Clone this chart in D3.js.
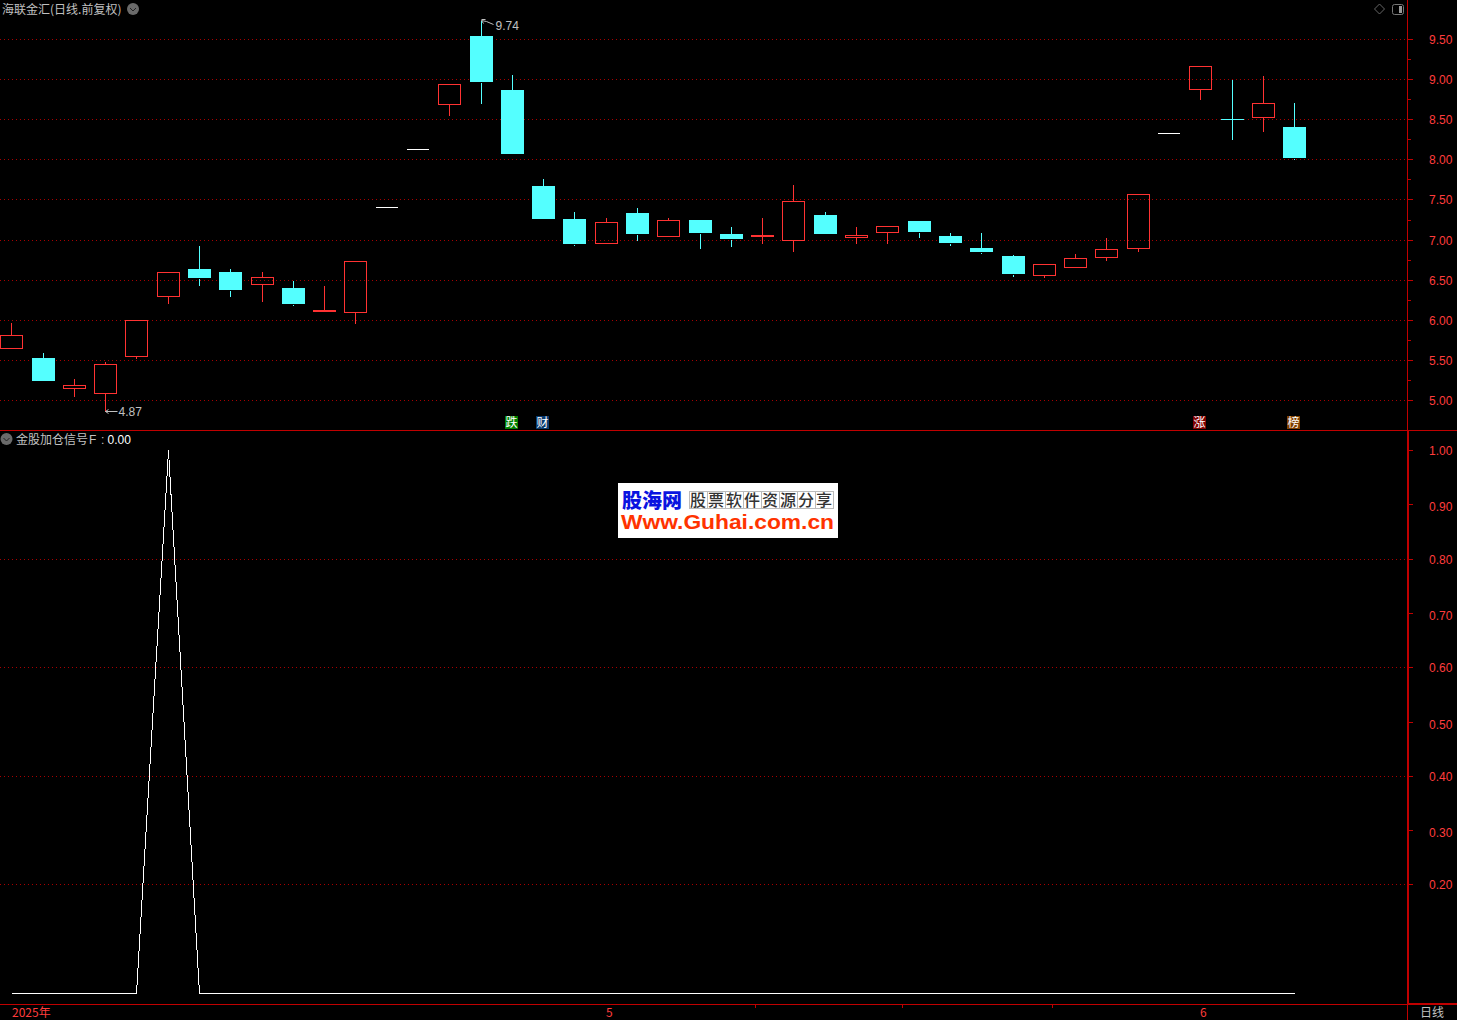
<!DOCTYPE html>
<html>
<head>
<meta charset="utf-8">
<script src="https://cdn.jsdelivr.net/npm/d3@7"></script>
<style>
  html, body { margin: 0; padding: 0; background: #000; overflow: hidden; }
  svg { display: block; }
  text { font-family: "Noto Sans CJK SC", "Liberation Sans", sans-serif; font-size: 12px; }
  .num { font-family: "Liberation Sans", sans-serif; }
  .candle line, .candle rect, .crisp { shape-rendering: crispEdges; }
</style>
</head>
<body>
<div id="chart"></div>
<script>
// daily candles
const opens  = [5.65,5.53,5.15,5.09,5.55,6.30,6.64,6.60,6.45,6.40,6.12,6.10,7.41,8.14,8.69,9.54,8.87,7.67,7.26,6.96,7.34,7.05,7.25,7.08,7.05,7.00,7.31,7.04,7.10,7.24,7.05,6.90,6.80,6.56,6.66,6.79,6.90,8.33,8.88,8.51,8.53,8.41];
const closes = [5.81,5.24,5.19,5.45,6.00,6.60,6.53,6.37,6.54,6.20,6.13,6.74,7.41,8.14,8.95,8.97,8.07,7.26,6.95,7.22,7.08,7.25,7.09,7.01,7.06,7.48,7.08,7.06,7.17,7.10,6.96,6.85,6.58,6.70,6.77,6.89,7.57,8.33,9.17,8.51,8.71,8.02];
const highs  = [5.98,5.60,5.28,5.49,6.00,6.60,6.94,6.65,6.61,6.50,6.44,6.74,7.41,8.14,8.95,9.74,9.07,7.77,7.36,7.29,7.41,7.29,7.25,7.18,7.29,7.70,7.36,7.18,7.19,7.25,7.10,7.10,6.83,6.70,6.84,7.04,7.57,8.33,9.17,9.01,9.06,8.72];
const lows   = [5.65,5.24,5.05,4.87,5.53,6.21,6.44,6.30,6.24,6.19,6.12,5.97,7.41,8.14,8.56,8.71,8.07,7.26,6.94,6.96,7.00,7.05,6.90,6.93,6.96,6.86,7.08,6.96,6.96,7.04,6.94,6.84,6.55,6.54,6.66,6.75,6.86,8.33,8.76,8.26,8.36,8.01];

// lower panel indicator
const signal = [0,0,0,0,0,1,0,0,0,0,0,0,0,0,0,0,0,0,0,0,0,0,0,0,0,0,0,0,0,0,0,0,0,0,0,0,0,0,0,0,0,0];

const priceTicks = [5,5.5,6,6.5,7,7.5,8,8.5,9,9.5];
const priceMinorTicks = [5.25,5.75,6.25,6.75,7.25,7.75,8.25,8.75,9.25];
const signalTicks = [0.2,0.3,0.4,0.5,0.6,0.7,0.8,0.9,1];
const signalGrid = [0.2,0.4,0.6,0.8];

const badges = [
  {i: 16, label: '跌', color: '#008000'},
  {i: 17, label: '财', color: '#0a3a6e'},
  {i: 38, label: '涨', color: '#800000'},
  {i: 41, label: '榜', color: '#804000'}
];
const monthLabels = [{x: 12, label: '2025年'}, {x: 606, label: '5'}, {x: 1200, label: '6'}];
const weekTicks = [755, 902, 1052];
const logoChars = ['股','票','软','件','资','源','分','享'];

const width = 1457, height = 1020;
const axisX = 1407;
const lineRed = '#c00000', gridRed = '#a80000', labelRed = '#ff3c3c', candleRed = '#ff3232', candleCyan = '#54ffff', gray = '#c0c0c0';

const svg = d3.select('#chart').append('svg')
    .attr('width', width)
    .attr('height', height)
    .style('background', '#000');

const x = d3.scaleLinear().domain([0, 41]).range([11.72, 1294.61]);
const yPrice = d3.scaleLinear().domain([5, 9.5]).range([400.5, 39.5]);
const ySignal = d3.scaleLinear().domain([0, 1]).range([993.5, 450.5]);

// keep 1px marks on whole pixel rows
const snap = v => Math.floor(v) + 0.5;
const cx = i => snap(x(i));
const gridY = p => snap(yPrice(p));
const py = p => snap(yPrice(p) + 0.4);

// grids
svg.append('g').selectAll('line')
    .data(priceTicks)
  .join('line')
    .attr('class', 'crisp')
    .attr('x1', 0).attr('x2', axisX)
    .attr('y1', gridY).attr('y2', gridY)
    .attr('stroke', gridRed)
    .attr('stroke-dasharray', '1 3');

svg.append('g').selectAll('line')
    .data(signalGrid)
  .join('line')
    .attr('class', 'crisp')
    .attr('x1', 0).attr('x2', axisX)
    .attr('y1', d => snap(ySignal(d))).attr('y2', d => snap(ySignal(d)))
    .attr('stroke', gridRed)
    .attr('stroke-dasharray', '1 3');

// candles
const candles = svg.append('g').selectAll('g')
    .data(d3.range(opens.length))
  .join('g')
    .attr('class', 'candle');

candles.each(function(i) {
  const g = d3.select(this);
  const o = opens[i], c = closes[i], h = highs[i], l = lows[i];
  const top = Math.max(o, c), bot = Math.min(o, c);
  const mid = cx(i);

  if (o === c) {
    // flat bar, no body
    if (h === l) {
      g.append('line').attr('x1', mid - 11.5).attr('x2', mid + 10.5).attr('y1', py(o)).attr('y2', py(o)).attr('stroke', '#fff');
    } else {
      g.append('line').attr('x1', mid - 11.5).attr('x2', mid + 11.5).attr('y1', py(o)).attr('y2', py(o)).attr('stroke', candleCyan);
      g.append('line').attr('x1', mid).attr('x2', mid).attr('y1', py(h)).attr('y2', py(l)).attr('stroke', candleCyan);
    }
    return;
  }

  const col = c > o ? candleRed : candleCyan;
  if (h > top) g.append('line').attr('x1', mid).attr('x2', mid).attr('y1', py(h)).attr('y2', py(top)).attr('stroke', col);
  if (l < bot) g.append('line').attr('x1', mid).attr('x2', mid).attr('y1', py(bot)).attr('y2', py(l)).attr('stroke', col);

  if (c > o) {
    g.append('rect')
        .attr('x', mid - 11).attr('width', 22)
        .attr('y', py(top)).attr('height', Math.max(1, py(bot) - py(top)))
        .attr('fill', 'none').attr('stroke', col);
  } else {
    g.append('rect')
        .attr('x', mid - 11.5).attr('width', 23)
        .attr('y', py(top) - 0.5).attr('height', py(bot) - py(top))
        .attr('fill', col);
  }
});

// high / low notes
const hiIdx = highs.indexOf(d3.max(highs));
const loIdx = lows.indexOf(d3.min(lows));
const hx = cx(hiIdx), hy = py(highs[hiIdx]);
const lx = cx(loIdx), ly = py(lows[loIdx]);

svg.append('path')
    .attr('d', `M${hx},${hy - 1}h4M${hx},${hy}l2,3M${hx},${hy}l5,1l7,3`)
    .attr('fill', 'none').attr('stroke', gray).attr('stroke-width', 1);
svg.append('text').attr('class', 'num')
    .attr('x', hx + 14).attr('y', hy + 9.5)
    .attr('fill', gray)
    .text(highs[hiIdx].toFixed(2));

svg.append('path')
    .attr('d', `M${lx},${ly}h12M${lx},${ly}l3,-2M${lx},${ly}l3,2`)
    .attr('fill', 'none').attr('stroke', gray).attr('stroke-width', 1);
svg.append('text').attr('class', 'num')
    .attr('x', lx + 13).attr('y', ly + 4.5)
    .attr('fill', gray)
    .text(lows[loIdx].toFixed(2));

// event badges
const badge = svg.append('g').selectAll('g')
    .data(badges)
  .join('g')
    .attr('transform', d => `translate(${cx(d.i) - 7.5},416)`);
badge.append('rect')
    .attr('width', 13).attr('height', 13)
    .attr('fill', d => d.color);
badge.append('text')
    .attr('x', 6.5).attr('y', 11)
    .attr('text-anchor', 'middle')
    .attr('fill', '#fff')
    .text(d => d.label);

// indicator line
const signalLine = d3.line()
    .x((d, i) => cx(i))
    .y(d => snap(ySignal(d)));

svg.append('path')
    .datum(signal)
    .attr('class', 'crisp')
    .attr('d', signalLine)
    .attr('fill', 'none')
    .attr('stroke', '#fff')
    .attr('stroke-width', 1);

// frame
const frame = [
  [0, 430.5, width, 430.5, 1],
  [0, 1004.5, axisX, 1004.5, 1],
  [axisX, 1004, width, 1004, 2],
  [axisX + 0.5, 0, axisX + 0.5, 431, 1],
  [axisX + 1, 431, axisX + 1, 1004, 2],
  [axisX + 0.5, 1004, axisX + 0.5, height, 1]
];
svg.append('g').selectAll('line')
    .data(frame)
  .join('line')
    .attr('class', 'crisp')
    .attr('x1', d => d[0]).attr('y1', d => d[1])
    .attr('x2', d => d[2]).attr('y2', d => d[3])
    .attr('stroke', lineRed)
    .attr('stroke-width', d => d[4]);

// axes
function styleAxis(g, scaleSnap) {
  g.select('.domain').remove();
  g.selectAll('.tick').attr('transform', d => `translate(0,${scaleSnap(d)})`);
  g.selectAll('.tick line').attr('class', 'crisp').attr('stroke', lineRed);
  g.selectAll('.tick text')
      .attr('class', 'num')
      .attr('fill', labelRed)
      .attr('y', 1)
      .style('font-size', '12px')
      .style('font-family', '"Liberation Sans", sans-serif');
}

svg.append('g')
    .attr('transform', `translate(${axisX + 1},0)`)
    .call(d3.axisRight(yPrice).tickValues(priceMinorTicks).tickSize(3).tickFormat(''))
    .call(g => styleAxis(g, gridY));

svg.append('g')
    .attr('transform', `translate(${axisX + 1},0)`)
    .call(d3.axisRight(yPrice).tickValues(priceTicks).tickSize(5).tickPadding(16).tickFormat(d3.format('.2f')))
    .call(g => styleAxis(g, gridY));

svg.append('g')
    .attr('transform', `translate(${axisX + 1},0)`)
    .call(d3.axisRight(ySignal).tickValues(signalTicks).tickSize(5).tickPadding(16).tickFormat(d3.format('.2f')))
    .call(g => styleAxis(g, d => snap(ySignal(d))))
    // the odd tenths sit a little lower in the original
    .call(g => g.selectAll('.tick text').attr('y', d => Math.round(d * 10) % 2 ? 3 : 1));

// date axis
svg.append('g').selectAll('text')
    .data(monthLabels)
  .join('text')
    .attr('x', d => d.x).attr('y', 1017)
    .attr('fill', labelRed)
    .text(d => d.label);

svg.append('g').selectAll('line')
    .data(weekTicks)
  .join('line')
    .attr('class', 'crisp')
    .attr('x1', d => d + 0.5).attr('x2', d => d + 0.5)
    .attr('y1', 1005).attr('y2', 1008)
    .attr('stroke', lineRed);

svg.append('text')
    .attr('x', 1420).attr('y', 1017)
    .attr('fill', gray)
    .text('日线');

// titles
svg.append('text')
    .attr('x', 2).attr('y', 14)
    .attr('fill', gray)
    .text('海联金汇(日线.前复权)');

function dropIcon(px, py_) {
  svg.append('circle').attr('cx', px).attr('cy', py_).attr('r', 6).attr('fill', '#6a6a6a');
  svg.append('path')
      .attr('d', `M${px - 3},${py_ - 1}l3,3l3,-3`)
      .attr('fill', 'none').attr('stroke', '#222').attr('stroke-width', 1);
}
dropIcon(133, 9);
dropIcon(6.5, 439);

const legend = svg.append('text').attr('y', 444).attr('fill', gray);
legend.append('tspan').attr('x', 16).text('金股加仓信号');
legend.append('tspan').attr('class', 'num').attr('x', 89).text('F');
legend.append('tspan').attr('class', 'num').attr('x', 101).text(':');
legend.append('tspan').attr('class', 'num').attr('x', 107.5).attr('fill', '#fff').text(signal[signal.length - 1].toFixed(2));

// top right buttons
svg.append('path')
    .attr('d', 'M1379.5,4l5,5l-5,5l-5,-5z')
    .attr('fill', 'none').attr('stroke', '#666');
svg.append('rect')
    .attr('x', 1392.5).attr('y', 4.5).attr('width', 11).attr('height', 10).attr('rx', 2)
    .attr('fill', 'none').attr('stroke', '#777');
svg.append('rect')
    .attr('x', 1399).attr('y', 6).attr('width', 3).attr('height', 7)
    .attr('fill', '#999');

// site logo box
const logo = svg.append('g').attr('transform', 'translate(618,483)');
logo.append('rect').attr('width', 220).attr('height', 55).attr('fill', '#fff');
logo.append('text')
    .attr('x', 4).attr('y', 25)
    .attr('fill', '#0a14e0')
    .attr('font-weight', 900)
    .attr('textLength', 60)
    .style('font-size', '20px')
    .text('股海网');

const cell = d3.scaleBand().domain(logoChars).range([71, 215]);
logo.selectAll('.cell')
    .data(logoChars)
  .join('rect')
    .attr('class', 'cell crisp')
    .attr('x', d => cell(d) + 0.5).attr('y', 8.5)
    .attr('width', cell.bandwidth()).attr('height', 17)
    .attr('fill', 'none').attr('stroke', '#bbb');
logo.selectAll('.cellText')
    .data(logoChars)
  .join('text')
    .attr('class', 'cellText')
    .attr('x', d => cell(d) + cell.bandwidth() / 2)
    .attr('y', 23)
    .attr('text-anchor', 'middle')
    .attr('fill', '#333')
    .attr('font-weight', 500)
    .style('font-family', '"Noto Sans CJK SC", sans-serif')
    .style('font-size', '16px')
    .text(d => d);
logo.append('text')
    .attr('x', 3).attr('y', 46)
    .attr('fill', '#ff3300')
    .attr('font-weight', 700)
    .attr('textLength', 213)
    .attr('lengthAdjust', 'spacingAndGlyphs')
    .style('font-family', '"Liberation Sans", sans-serif')
    .style('font-size', '20px')
    .text('Www.Guhai.com.cn');
</script>
</body>
</html>
